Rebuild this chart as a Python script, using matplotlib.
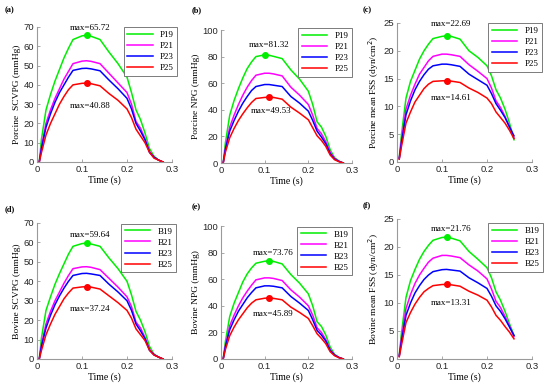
import matplotlib
matplotlib.use("Agg")
import matplotlib.pyplot as plt

t_long = [0.005, 0.01, 0.02, 0.03, 0.04, 0.05, 0.06, 0.07, 0.08, 0.10, 0.11, 0.12,
          0.14, 0.16, 0.18, 0.20, 0.21, 0.22, 0.23, 0.24, 0.25, 0.26, 0.27, 0.28]
t_short = [0.005, 0.01, 0.02, 0.03, 0.04, 0.05, 0.06, 0.07, 0.08, 0.10, 0.11, 0.12,
           0.14, 0.16, 0.18, 0.20, 0.21, 0.22, 0.23, 0.24, 0.25, 0.26]

# (a) Porcine SCVPG
a_P19 = [0, 12, 27, 35, 42, 48, 54, 59, 63.5, 65.4, 65.72, 65.2, 63.5, 57, 51, 44, 36, 27, 22, 15, 7, 3, 1, 0]
a_P21 = [0, 8, 20, 27, 33, 38, 43, 47, 51, 52.3, 52.5, 52.2, 51, 46, 41, 36, 30, 21, 17.5, 12, 5.5, 2.5, 1, 0]
a_P23 = [0, 7, 18, 25, 31, 36, 40, 44, 47.5, 48.5, 48.6, 48.3, 47.3, 42.5, 38, 33, 27.5, 20, 16, 11.5, 5, 2.5, 1, 0]
a_P25 = [0, 5, 14, 20, 25, 30, 34, 37.5, 40, 40.8, 40.88, 40.6, 39.5, 35.5, 32, 27.5, 23, 17, 13.5, 10, 5, 2, 1, 0]
# (b) Porcine NPG
b_P19 = [0, 15, 36, 47, 56, 64, 71, 76, 80, 81.32, 81, 80.2, 78.5, 70, 63, 54, 44, 31, 27, 20, 10, 4, 1.5, 0]
b_P21 = [0, 11, 27, 36, 44, 51, 57, 62, 66, 67.5, 67.5, 67, 65.5, 57, 51, 44, 36, 26, 22, 16, 8, 3.5, 1.3, 0]
b_P23 = [0, 10, 24, 32, 39, 45, 50, 54.5, 57.5, 59, 59, 58.5, 57.5, 50, 45, 39, 32, 24, 19.5, 14.5, 7, 3, 1.2, 0]
b_P25 = [0, 8, 19, 26, 32, 37, 41.5, 45.5, 48.5, 49.3, 49.53, 49.3, 48, 42, 37.5, 32.5, 26.5, 20.5, 17, 12.5, 6, 2.5, 1, 0]
# (c) Porcine mean FSS
c_P19 = [0.8, 5, 11.5, 14.5, 16.5, 18.5, 20, 21.2, 22.2, 22.6, 22.69, 22.6, 22.1, 20, 18.8, 17.3, 15.5, 13, 11.5, 9.5, 7, 4]
c_P21 = [0.7, 4, 9.5, 12, 14, 15.8, 17, 18.2, 19, 19.4, 19.4, 19.3, 19, 17.5, 16.3, 15, 13.3, 11, 9.8, 8.2, 6.3, 4.3]
c_P23 = [0.6, 3.5, 8.5, 11, 13, 14.5, 15.7, 16.7, 17.3, 17.6, 17.6, 17.5, 17.2, 15.8, 14.8, 13.8, 12.3, 10.5, 9.3, 8, 6.3, 4.7]
c_P25 = [0.5, 2.8, 7, 9, 10.8, 12, 13.2, 14, 14.5, 14.6, 14.61, 14.55, 14.3, 13.3, 12.5, 11.5, 10.5, 9, 8, 7, 5.7, 4.2]
# (d) Bovine SCVPG
d_B19 = [0, 11, 25, 32, 38.5, 44, 49, 54, 58, 59.4, 59.64, 59.2, 58, 52, 46.5, 40, 33, 24.5, 20, 14, 6.5, 2.5, 1, 0]
d_B21 = [0, 7.5, 18, 24.5, 30, 34.5, 39, 43, 46.5, 47.4, 47.5, 47.2, 46, 41.5, 37, 32, 27, 19, 16, 11, 5, 2.3, 1, 0]
d_B23 = [0, 6.5, 16, 22.5, 28, 32.5, 36.5, 40, 43, 44, 44.1, 43.8, 43, 38.5, 34.5, 30, 25, 18, 14.5, 10.5, 4.5, 2.2, 1, 0]
d_B25 = [0, 4.5, 12.5, 18, 23, 27, 31, 34, 36.5, 37.1, 37.24, 37, 36, 32.5, 29, 25, 21, 15.5, 12.5, 9.5, 4.5, 2, 1, 0]
# (e) Bovine NPG
e_B19 = [0, 13, 32, 42, 50, 58, 64, 68.5, 72, 73.5, 73.76, 73.4, 71.5, 63.5, 57, 49, 40, 28, 24.5, 18, 9, 3.5, 1.3, 0]
e_B21 = [0, 10, 25, 33, 40, 46, 51, 55.5, 59.5, 61, 61, 60.6, 59, 52, 46.5, 40, 33, 23.5, 20, 14.5, 7, 3, 1.2, 0]
e_B23 = [0, 9, 22, 29.5, 36, 41, 46, 50, 53.5, 55, 55, 54.7, 53.5, 47, 42, 36.5, 29.5, 21.5, 18, 13.5, 6.5, 3, 1.1, 0]
e_B25 = [0, 7, 17.5, 24, 29.5, 34, 38.5, 42, 44.5, 45.7, 45.89, 45.6, 44.5, 39, 35, 30.5, 25, 19, 15.5, 11.5, 5.5, 2.5, 1, 0]
# (f) Bovine mean FSS
f_B19 = [0.7, 4.7, 11, 14, 16, 17.8, 19.2, 20.3, 21.2, 21.7, 21.76, 21.6, 21.1, 19.2, 17.8, 16.3, 14.5, 12, 10.5, 8.5, 6.3, 4.2]
f_B21 = [0.6, 3.8, 9, 11.5, 13.5, 15, 16.2, 17.3, 18, 18.5, 18.5, 18.4, 18.1, 16.8, 15.7, 14.3, 12.5, 10.3, 9.2, 7.6, 5.9, 4.0]
f_B23 = [0.5, 3.2, 7.8, 10, 11.8, 13.1, 14.2, 15, 15.6, 15.95, 16, 15.9, 15.7, 14.5, 13.6, 12.6, 11.2, 9.5, 8.5, 7.2, 5.7, 4.2]
f_B25 = [0.4, 2.5, 6.5, 8.3, 9.8, 11, 12, 12.6, 13.1, 13.3, 13.31, 13.25, 13, 12.1, 11.4, 10.5, 9.3, 7.8, 6.9, 5.8, 4.8, 3.6]

porcine_names = ["P19", "P21", "P23", "P25"]
bovine_names = ["B19", "B21", "B23", "B25"]

panels = [
    dict(label="(a)", t=t_long, ys=[a_P19, a_P21, a_P23, a_P25], names=porcine_names,
         ylabel="Porcine  SCVPG (mmHg)", ylim=70, yticks=[0, 10, 20, 30, 40, 50, 60, 70],
         gmax=(0.11, 65.72), rmax=(0.11, 40.88), gtext=(0.117, 69.5), rtext=(0.117, 29),
         pos=[37, 27, 135, 135], leg=(1.04, 1.0), lab_xy=(5, 10)),
    dict(label="(b)", t=t_long, ys=[b_P19, b_P21, b_P23, b_P25], names=porcine_names,
         ylabel="Porcine NPG (mmHg)", ylim=100, yticks=[0, 20, 40, 60, 80, 100],
         gmax=(0.10, 81.32), rmax=(0.11, 49.53), gtext=(0.111, 88.7), rtext=(0.115, 39),
         pos=[221, 30, 131, 133], leg=(1.0, 1.015), lab_xy=(192, 10)),
    dict(label="(c)", t=t_short, ys=[c_P19, c_P21, c_P23, c_P25], names=porcine_names,
         ylabel="Porcine mean FSS (dyn/cm$^2$)", ylim=25, yticks=[0, 5, 10, 15, 20, 25],
         gmax=(0.11, 22.69), rmax=(0.11, 14.61), gtext=(0.12, 24.8), rtext=(0.12, 11.6),
         pos=[397, 23, 135, 139], leg=(1.074, 1.0), lab_xy=(363, 10)),
    dict(label="(d)", t=t_long, ys=[d_B19, d_B21, d_B23, d_B25], names=bovine_names,
         ylabel="Bovine SCVPG (mmHg)", ylim=70, yticks=[0, 10, 20, 30, 40, 50, 60, 70],
         gmax=(0.11, 59.64), rmax=(0.11, 37.24), gtext=(0.118, 64), rtext=(0.118, 25.6),
         pos=[37, 223, 135, 136], leg=(1.03, 0.995), lab_xy=(5, 209)),
    dict(label="(e)", t=t_long, ys=[e_B19, e_B21, e_B23, e_B25], names=bovine_names,
         ylabel="Bovine NPG (mmHg)", ylim=100, yticks=[0, 20, 40, 60, 80, 100],
         gmax=(0.11, 73.76), rmax=(0.11, 45.89), gtext=(0.12, 80), rtext=(0.12, 34),
         pos=[221, 226, 131, 133], leg=(1.0, 0.995), lab_xy=(192, 207)),
    dict(label="(f)", t=t_short, ys=[f_B19, f_B21, f_B23, f_B25], names=bovine_names,
         ylabel="Bovine mean FSS (dyn/cm$^2$)", ylim=25, yticks=[0, 5, 10, 15, 20, 25],
         gmax=(0.11, 21.76), rmax=(0.11, 13.31), gtext=(0.12, 23.3), rtext=(0.12, 10),
         pos=[397, 219, 135, 140], leg=(1.08, 0.97), lab_xy=(363, 205)),
]

colors = ["#00ee00", "#ff00ff", "#0000ff", "#ff0000"]
W, H = 550, 392
serif = ["Liberation Serif", "DejaVu Serif"]
sans = ["Liberation Sans", "DejaVu Sans"]
txtcol = "#262626"
spinecol = "#9a9a9a"

fig = plt.figure(figsize=(W / 100, H / 100), dpi=100)
for p in panels:
    x0, y0, w, h = p["pos"]
    ax = fig.add_axes([x0 / W, (H - y0 - h) / H, w / W, h / H])
    for y, c, n in zip(p["ys"], colors, p["names"]):
        ax.plot(p["t"], y, color=c, lw=1.1, label=n)
    ax.plot(*p["gmax"], "o", color=colors[0], ms=4, zorder=5)
    ax.plot(*p["rmax"], "o", color=colors[3], ms=4, zorder=5)
    ax.text(p["gtext"][0], p["gtext"][1], f"max={p['gmax'][1]:.2f}", ha="center", va="center",
            fontsize=6.5, family=serif, color="black")
    ax.text(p["rtext"][0], p["rtext"][1], f"max={p['rmax'][1]:.2f}", ha="center", va="center",
            fontsize=6.5, family=serif, color="black")
    ax.set_xlim(0, 0.3)
    ax.set_ylim(0, p["ylim"])
    ax.set_xticks([0, 0.1, 0.2, 0.3])
    ax.set_xticklabels(["0", "0.1", "0.2", "0.3"])
    ax.set_yticks(p["yticks"])
    for s in ["top", "right"]:
        ax.spines[s].set_visible(False)
    for s in ["left", "bottom"]:
        ax.spines[s].set_color(spinecol)
        ax.spines[s].set_linewidth(0.8)
    ax.tick_params(direction="in", length=2, width=0.6, color=spinecol, labelcolor=txtcol,
                   labelsize=6.8, pad=2)
    for lab in ax.get_xticklabels() + ax.get_yticklabels():
        lab.set_family(sans)
    ax.set_xlabel("Time (s)", fontsize=7, family=serif, labelpad=1)
    ax.set_ylabel(p["ylabel"], fontsize=6.8, family=serif, labelpad=2)
    leg = ax.legend(loc="upper right", bbox_to_anchor=p["leg"], borderaxespad=0,
                    prop={"family": serif, "size": 6.5}, fancybox=False, edgecolor="#666666",
                    framealpha=1, handlelength=2.8, handletextpad=0.8, labelspacing=0.3,
                    borderpad=0.4)
    leg.get_frame().set_linewidth(0.6)
    fig.text(p["lab_xy"][0] / W, 1 - p["lab_xy"][1] / H, p["label"], fontsize=6,
             family=serif, fontweight="bold", ha="left", va="center")

fig.savefig("out.png", dpi=100)
